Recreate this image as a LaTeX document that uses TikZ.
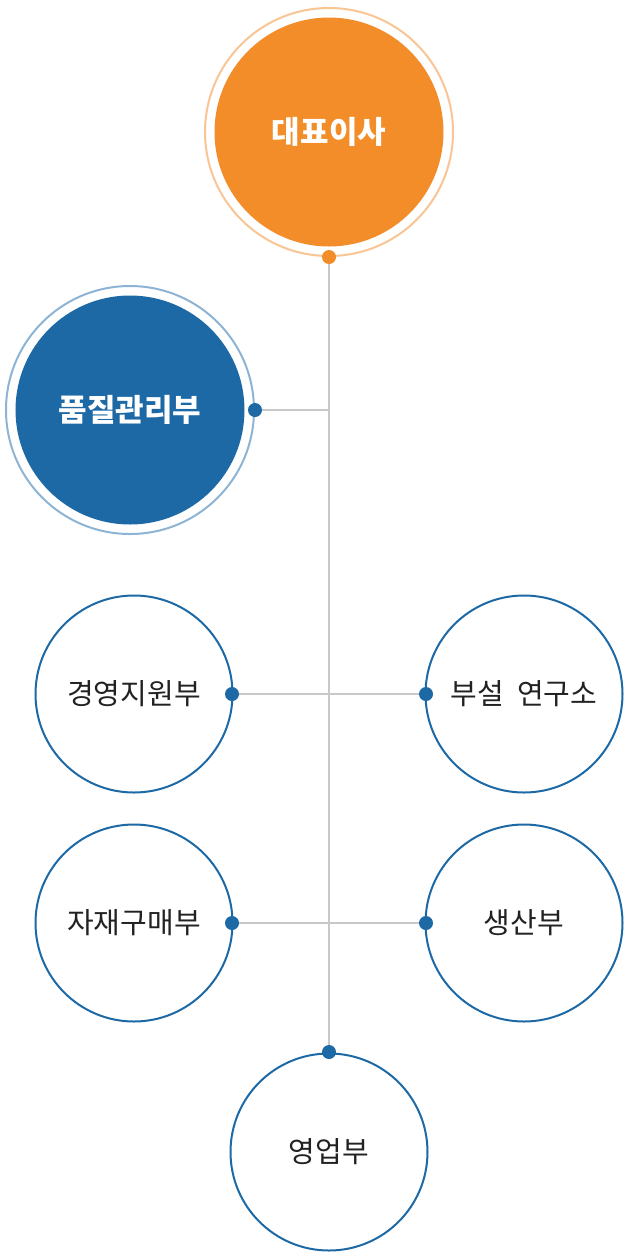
\documentclass[tikz,border=0pt]{standalone}
\usepackage{fontspec}
\setmainfont{Noto Sans CJK KR}
\usetikzlibrary{backgrounds}
\definecolor{orng}{HTML}{F38D2A}
\definecolor{orngring}{HTML}{F9C594}
\definecolor{blu}{HTML}{1D69A6}
\definecolor{bluring}{HTML}{8EB4D5}
\definecolor{lin}{HTML}{C8C8C8}
\definecolor{txt}{HTML}{222222}
\tikzset{
  ring/.style={circle, draw=#1, line width=2bp, minimum size=248bp, inner sep=0pt},
  head/.style={circle, fill=#1, minimum size=229bp, inner sep=0pt, text=white,
    font=\fontsize{31bp}{36bp}\selectfont\bfseries},
  dept/.style={circle, draw=blu, line width=2bp, fill=white, minimum size=197bp, inner sep=0pt,
    text=txt, font=\fontsize{29bp}{34bp}\selectfont},
  dot/.style={circle, fill=#1, minimum size=14bp, inner sep=0pt},
  conn/.style={draw=lin, line width=1.6bp}
}
\begin{document}
\begin{tikzpicture}[x=1bp,y=-1bp]
\useasboundingbox (0,0) rectangle (630,1260);
% junction on the spine
\coordinate (qaj) at (329,410);
% circles
\node[ring=orngring] (ceoring) at (329,132) {};
\node[head=orng] (ceo) at (329,132) {대표이사};
\node[ring=bluring] (qaring) at (130,410) {};
\node[head=blu] (qa) at (130,410) {품질관리부};
\node[dept] (mgmt) at (134,694) {경영지원부};
\node[dept] (lab) at (524,694) {부설\hspace{0.45em}연구소};
\node[dept] (purch) at (134,923) {자재구매부};
\node[dept] (prod) at (524,923) {생산부};
\node[dept] (sales) at (329,1152) {영업부};
% connection dots
\node[dot=orng] (ceodot) at (329,257) {};
\node[dot=blu] (qadot) at (255,410) {};
\node[dot=blu] (mgmtdot) at (232,694) {};
\node[dot=blu] (labdot) at (426,694) {};
\node[dot=blu] (purchdot) at (232,923) {};
\node[dot=blu] (proddot) at (426,923) {};
\node[dot=blu] (salesdot) at (329,1052) {};
% connectors (behind everything)
\begin{pgfonlayer}{background}
\fill[white] (0,0) rectangle (630,1260);
\path[conn] (ceodot.center) -- (salesdot.center);
\path[conn] (qadot.center) -- (qaj);
\path[conn] (mgmtdot.center) -- (labdot.center);
\path[conn] (purchdot.center) -- (proddot.center);
\end{pgfonlayer}
\end{tikzpicture}
\end{document}
